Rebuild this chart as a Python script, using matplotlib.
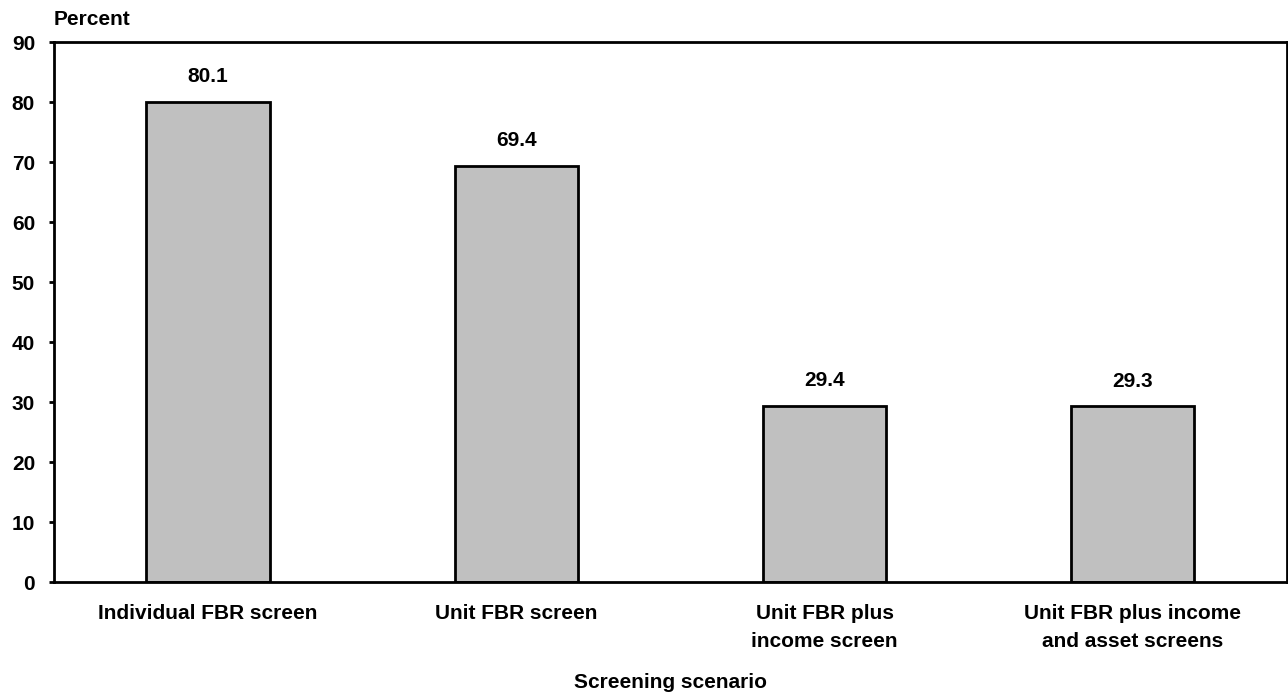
import numpy as np
import matplotlib
matplotlib.use("Agg")
import matplotlib.pyplot as plt

plt.rcParams['font.family'] = ['Liberation Sans', 'DejaVu Sans']
plt.rcParams['font.weight'] = 'bold'

scenarios = ['Individual FBR screen', 'Unit FBR screen',
             'Unit FBR plus\nincome screen', 'Unit FBR plus income\nand asset screens']
percent = [80.1, 69.4, 29.4, 29.3]
yticks = [0, 10, 20, 30, 40, 50, 60, 70, 80, 90]

fs = 15

fig = plt.figure(figsize=(12.88, 6.93), dpi=100)
ax = fig.add_axes([0.0419, 0.160, 0.9573, 0.779])

x = np.arange(len(scenarios))
ax.bar(x, percent, width=0.4, color='#c0c0c0', edgecolor='black', linewidth=2, zorder=2)

# value labels above each bar
for xi, v in zip(x, percent):
    ax.text(xi, v + 2.6, '{:.1f}'.format(v), ha='center', va='bottom',
            fontsize=fs, fontweight='bold')

ax.set_xlim(-0.5, 3.5)
ax.set_ylim(0, 90)
ax.set_yticks(yticks)
ax.set_yticklabels([str(t) for t in yticks], fontsize=fs, fontweight='bold')
ax.set_xticks(x)
ax.set_xticklabels(scenarios, fontsize=fs, fontweight='bold', linespacing=1.6)
ax.tick_params(axis='x', length=0, pad=15.5)
ax.tick_params(axis='y', length=3.6, width=2, pad=10)

for s in ax.spines.values():
    s.set_linewidth(2)

ax.set_xlabel('Screening scenario', fontsize=fs, fontweight='bold', labelpad=16)
fig.text(0.0419, 0.972, 'Percent', ha='left', va='center', fontsize=fs, fontweight='bold')

fig.savefig('out.png', dpi=100)
